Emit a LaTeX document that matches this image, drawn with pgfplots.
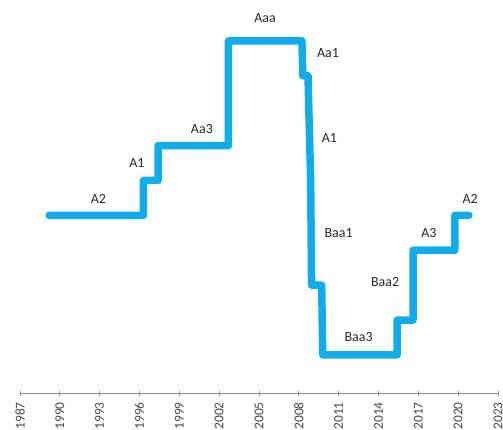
\documentclass[border=0pt]{standalone}
\usepackage{pgfplots}
\pgfplotsset{compat=1.18}
\usepackage{fontspec}
\setmainfont{Carlito}
\definecolor{lineblue}{RGB}{18,172,234}
\definecolor{axgray}{RGB}{140,140,140}
\definecolor{txtgray}{RGB}{70,70,70}
\begin{document}
\begin{tikzpicture}
\begin{axis}[
	scale only axis,
	width=478bp, height=393bp,
	xmin=1987, xmax=2023,
	ymin=-0.09, ymax=11.17,
	axis x line*=bottom,
	axis y line=none,
	xtick={1987,1990,1993,1996,1999,2002,2005,2008,2011,2014,2017,2020,2023},
	xticklabels={1987,1990,1993,1996,1999,2002,2005,2008,2011,2014,2017,2020,2023},
	ytick=\empty,
	xtick align=center,
	major tick length=5bp,
	axis line style={axgray, line width=0.8bp},
	tick style={axgray, line width=0.8bp},
	xticklabel style={yshift=-6.5bp, rotate=90, anchor=east, font=\fontsize{13.5}{13.5}\selectfont, text=txtgray, inner sep=0pt},
	clip=false,
]
% rating levels: Aaa=10 ... Baa3=1
\addplot[lineblue, line width=7.5bp, line join=round, line cap=round] coordinates {
	(1989.2,5) (1996.3,5) (1996.3,6) (1997.4,6) (1997.4,7) (2002.7,7)
	(2002.7,10) (2008.23,10) (2008.3,9) (2008.69,9) (2008.89,6)
	(2008.96,3) (2009.72,3) (2009.8,1) (2015.4,1) (2015.4,2)
	(2016.6,2) (2016.6,4) (2019.75,4) (2019.75,5) (2020.8,5)
};
\begin{scope}[every node/.style={font=\fontsize{14}{14}\selectfont, text=black!85}]
\node at (axis cs:1992.9,5.46) {A2};
\node at (axis cs:1995.8,6.5) {A1};
\node at (axis cs:2000.7,7.46) {Aa3};
\node at (axis cs:2005.45,10.66) {Aaa};
\node at (axis cs:2010.2,9.66) {Aa1};
\node at (axis cs:2010.3,7.23) {A1};
\node at (axis cs:2011.0,4.5) {Baa1};
\node at (axis cs:2014.5,3.1) {Baa2};
\node at (axis cs:2012.5,1.5) {Baa3};
\node at (axis cs:2017.8,4.5) {A3};
\node at (axis cs:2020.9,5.46) {A2};
\end{scope}
\coordinate (o) at (rel axis cs:0,0);
\coordinate (t) at (rel axis cs:1,1);
\end{axis}
\pgfresetboundingbox
\path ([shift={(-20bp,-37bp)}]o) rectangle ([xshift=5bp]t);
\end{tikzpicture}
\end{document}
